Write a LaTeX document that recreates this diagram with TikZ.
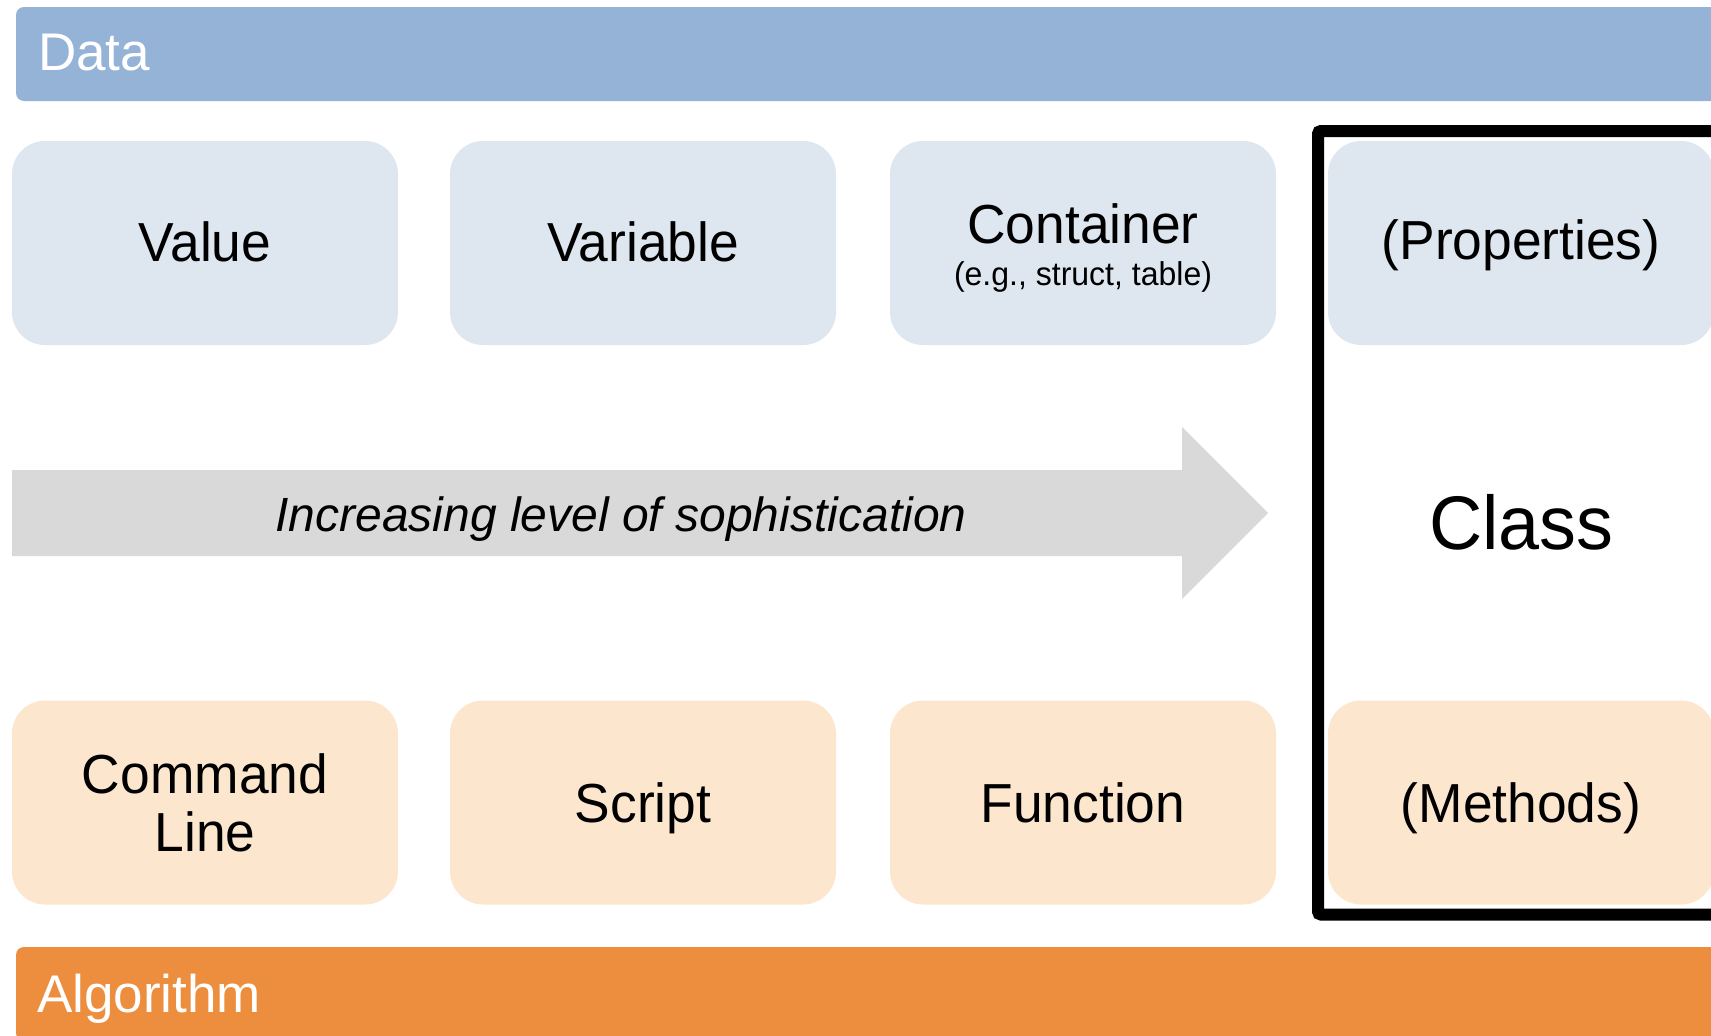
\documentclass[tikz,border=0pt]{standalone}
\usepackage{fontspec}
\setmainfont{Liberation Sans}
\newfontfamily\narrowfont[FakeStretch=0.97]{Liberation Sans}
\definecolor{datablue}{HTML}{95B3D7}
\definecolor{datafill}{HTML}{DEE6F0}
\definecolor{algoorange}{HTML}{ED8E3F}
\definecolor{algofill}{HTML}{FCE6CD}
\definecolor{arrowgray}{HTML}{D9D9D9}
\begin{document}
\begin{tikzpicture}[x=1pt,y=-1pt,
  bar/.style={rectangle, rounded corners=8pt, minimum width=1744pt, minimum height=94pt, inner sep=0pt},
  bartext/.style={anchor=base west, inner sep=0pt, text=white, font=\fontsize{53}{60}\selectfont},
  tile/.style={rectangle, rounded corners=33pt, minimum width=386pt, minimum height=204pt, inner sep=0pt},
  datatile/.style={tile, fill=datafill},
  algotile/.style={tile, fill=algofill},
  tiletext/.style={anchor=base, inner sep=0pt, font=\narrowfont\fontsize{55}{60}\selectfont},
  subtext/.style={anchor=base, inner sep=0pt, font=\narrowfont\fontsize{33}{36}\selectfont},
]
\useasboundingbox (0,0) rectangle (1711,1036);
\clip (0,0) rectangle (1711,1036);

% category bars
\node[bar, fill=datablue] (databar) at (888,54) {};
\node[bartext] (datalabel) at (38,70) {Data};
\node[bar, fill=algoorange] (algobar) at (888,994) {};
\node[bartext] (algolabel) at (37,1012) {Algorithm};

% data row
\node[datatile] (value) at (205,243) {};
\node[datatile] (variable) at (643,243) {};
\node[datatile] (container) at (1083,243) {};
\node[datatile] (properties) at (1521,243) {};
\node[tiletext] (valuetxt) at (205,261) {Value};
\node[tiletext] (variabletxt) at (643,261) {Variable};
\node[tiletext] (containertxt) at (1083,243) {Container};
\node[subtext] (containersub) at (1083,285) {(e.g., struct, table)};
\node[tiletext] (propertiestxt) at (1521,259) {(Properties)};

% algorithm row
\node[algotile] (cmdline) at (205,802.5) {};
\node[algotile] (script) at (643,802.5) {};
\node[algotile] (function) at (1083,802.5) {};
\node[algotile] (methods) at (1521,802.5) {};
\node[tiletext] (cmdtxt) at (205,793) {Command};
\node[tiletext] (linetxt) at (205,851) {Line};
\node[tiletext] (scripttxt) at (643,822) {Script};
\node[tiletext] (functiontxt) at (1083,822) {Function};
\node[tiletext] (methodstxt) at (1521,822) {(Methods)};

% progression arrow
\fill[arrowgray] (12,470) -- (1182,470) -- (1182,427) -- (1268,513)
  -- (1182,599) -- (1182,556) -- (12,556) -- cycle;
\node[anchor=base, inner sep=0pt, font=\itshape\fontsize{48}{54}\selectfont] (arrowtxt) at (621,531) {Increasing level of sophistication};

% class frame
\draw[line width=12pt, rounded corners=3pt] (1318,131) rectangle (1760,914.5);
\node[anchor=base, inner sep=0pt, font=\narrowfont\fontsize{76}{80}\selectfont] (classtxt) at (1521.5,549) {Class};
\end{tikzpicture}
\end{document}
